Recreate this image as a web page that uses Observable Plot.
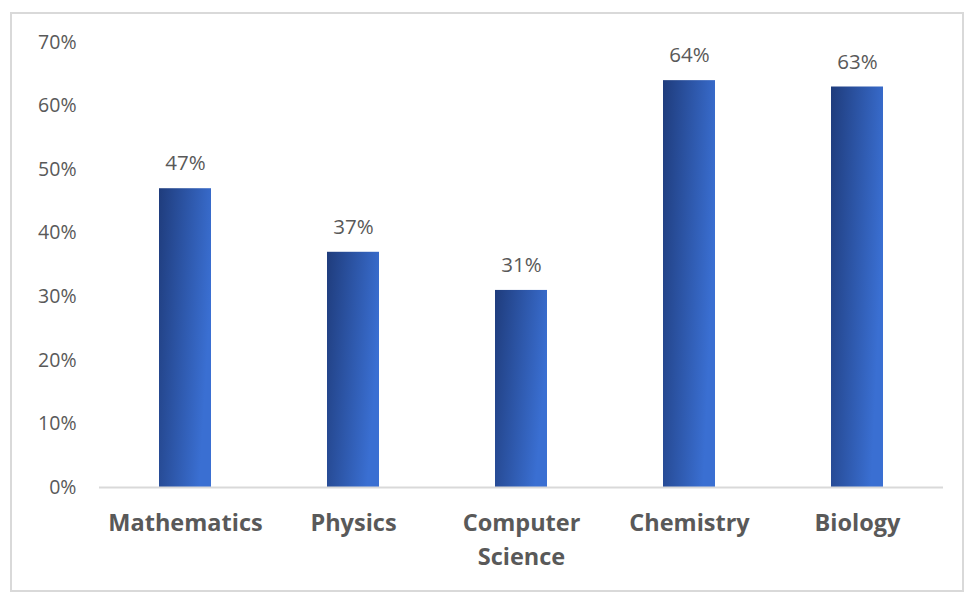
<!DOCTYPE html>
<html>
<head>
<meta charset="utf-8">
<script src="https://cdn.jsdelivr.net/npm/d3@7"></script>
<script src="https://cdn.jsdelivr.net/npm/@observablehq/plot@0.6"></script>
<style>
  html, body { margin: 0; padding: 0; background: #fff; }
  #wrap { position: relative; width: 965px; height: 592px; overflow: hidden; }
  #border { position: absolute; left: 10px; top: 12px; width: 950px; height: 576px; border: 2px solid #d9d9d9; box-sizing: content-box; pointer-events: none; }
</style>
</head>
<body>
<div id="wrap"><div id="border"></div></div>
<script>
const subjects = ["Mathematics", "Physics", "Computer Science", "Chemistry", "Biology"];
const shares = [0.47, 0.37, 0.31, 0.64, 0.63];
const yTicks = [0, 0.1, 0.2, 0.3, 0.4, 0.5, 0.6, 0.7];
const xLabels = ["Mathematics", "Physics", "Computer\nScience", "Chemistry", "Biology"];

const data = subjects.map((s, i) => ({subject: s, value: shares[i], label: xLabels[i]}));
const font = "'Open Sans', 'Noto Sans', sans-serif";

const chart = Plot.plot({
  width: 965,
  height: 592,
  marginLeft: 99,
  marginRight: 22,
  marginTop: 42,
  marginBottom: 105,
  style: {fontFamily: font, background: "transparent", overflow: "visible"},
  x: {domain: subjects, paddingInner: 0.69, paddingOuter: 0.345, label: null},
  y: {domain: [0, 0.7], label: null},
  marks: [
    Plot.axisY({ticks: yTicks, tickFormat: d3.format(".0%"), tickSize: 0, tickPadding: 23, fontSize: 19.5, color: "#595959", label: null}),
    Plot.axisX({tickSize: 0, tickPadding: 19, fontSize: 23.5, fontWeight: "bold", color: "#595959", lineHeight: 1.45, tickFormat: (d) => xLabels[subjects.indexOf(d)], label: null}),
    Plot.barY(data, {x: "subject", y: "value", fill: "url(#barGrad)"}),
    Plot.ruleY([0], {stroke: "#d9d9d9", strokeWidth: 2}),
    Plot.text(data, {x: "subject", y: "value", text: (d) => d3.format(".0%")(d.value), dy: -25, fontSize: 20.5, fill: "#595959"})
  ]
});

const ns = "http://www.w3.org/2000/svg";
const defs = document.createElementNS(ns, "defs");
defs.innerHTML = `<linearGradient id="barGrad" x1="0" y1="0" x2="1" y2="0.35">
  <stop offset="0" stop-color="#1f3c7c"/>
  <stop offset="1" stop-color="#3a6fd2"/>
</linearGradient>`;
chart.insertBefore(defs, chart.firstChild);
chart.style.position = "absolute";
chart.style.left = "0";
chart.style.top = "0";
document.getElementById("wrap").insertBefore(chart, document.getElementById("border"));
</script>
</body>
</html>
